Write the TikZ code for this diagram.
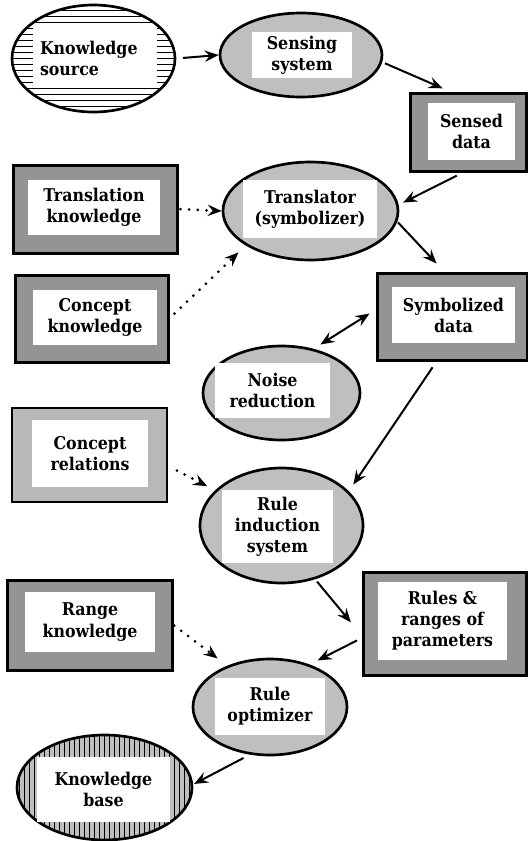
\documentclass[tikz,border=0pt]{standalone}
\usepackage{fontspec}
\setmainfont{DejaVu Serif Condensed}
\usetikzlibrary{shapes.geometric,arrows.meta}

\begin{document}
\begin{tikzpicture}[x=0.3mm, y=-0.3mm,
    >={Stealth[length=4.2mm, width=3.4mm, inset=1.5mm]},
    dims/.style 2 args={minimum width=#1*0.3mm, minimum height=#2*0.3mm},
    oval/.style={ellipse, draw=black, line width=0.8mm, fill=black!25, inner sep=0pt},
    box/.style={rectangle, draw=black, line width=0.9mm, fill=black!42, inner sep=0pt},
    lightbox/.style={box, line width=0.6mm, fill=black!28},
    hlines/.style={path picture={\foreach \k in {-10,...,10}
        \draw[line width=0.5mm] ([yshift=\k*1.8mm]path picture bounding box.west) -- ([yshift=\k*1.8mm]path picture bounding box.east);}},
    vlines/.style={path picture={\foreach \k in {-20,...,20}
        \draw[line width=0.35mm] ([xshift=\k*1.5mm]path picture bounding box.north) -- ([xshift=\k*1.5mm]path picture bounding box.south);}},
    txt/.style={rectangle, fill=white, inner sep=0pt, align=center, font=\bfseries\fontsize{15}{18}\selectfont},
    arr/.style={line width=0.6mm, ->},
    dblarr/.style={line width=0.6mm, <->},
    dotarr/.style={line width=0.9mm, dash pattern=on 0pt off 2.6mm, line cap=round, ->}]
    \useasboundingbox (0,0) rectangle (528,841);

    \node[oval, dims={163}{107}, fill=white, hlines] (ks) at (93.5,58.5) {};
    \node[txt, minimum height=60*0.3mm, text width=110*0.3mm, inner xsep=7*0.3mm, align=left] (ks-txt) at (95,58) {Knowledge\\source};

    \node[oval, dims={162}{84}] (sens) at (301,55) {};
    \node[txt, dims={100}{46}] (sens-txt) at (302,55) {Sensing\\system};

    \node[box, dims={116}{78}] (sdata) at (468,132) {};
    \node[txt, dims={87}{57}] (sdata-txt) at (471.5,131.5) {Sensed\\data};

    \node[oval, dims={175}{98}] (trans) at (310.5,211) {};
    \node[txt, dims={134}{58}] (trans-txt) at (310,209) {Translator\\(symbolizer)};

    \node[box, dims={164}{88}] (transk) at (95,209) {};
    \node[txt, dims={132}{55}] (transk-txt) at (94,207.5) {Translation\\knowledge};

    \node[box, dims={153}{87}] (conk) at (91.5,318.5) {};
    \node[txt, dims={124}{55}] (conk-txt) at (95,317.5) {Concept\\knowledge};

    \node[box, dims={150}{87}] (symb) at (452,316.5) {};
    \node[txt, dims={123}{56}] (symb-txt) at (453.5,315) {Symbolized\\data};

    \node[oval, dims={157}{94}] (noise) at (281.5,393) {};
    \node[txt, dims={115}{55}] (noise-txt) at (272.5,390.5) {Noise\\reduction};

    \node[lightbox, dims={155}{94}] (conrel) at (89.5,455) {};
    \node[txt, dims={116}{67}] (conrel-txt) at (90,453.5) {Concept\\relations};

    \node[oval, dims={163}{115}] (rind) at (281.5,525.5) {};
    \node[txt, dims={111}{73}] (rind-txt) at (277.5,526.5) {Rule\\induction\\system};

    \node[box, dims={163}{103}] (rules) at (444.5,623.5) {};
    \node[txt, dims={129}{78}] (rules-txt) at (442.5,621) {Rules \&\\ranges of\\parameters};

    \node[box, dims={165}{90}] (rangek) at (89.5,625) {};
    \node[txt, dims={130}{60}] (rangek-txt) at (90,622) {Range\\knowledge};

    \node[oval, dims={154}{96}] (ropt) at (270,707) {};
    \node[txt, dims={110}{57}] (ropt-txt) at (270,706.5) {Rule\\optimizer};

    \node[oval, dims={175}{105}, vlines] (kb) at (104.5,787.5) {};
    \node[txt, dims={133}{65}] (kb-txt) at (103.5,789.5) {Knowledge\\base};

    \path (ks.east) edge[arr, shorten <=2mm] (sens.west);
    \path (sens.-5) edge[arr, shorten <=0.9mm, shorten >=2.4mm] (sdata.114);
    \path (sdata.-97) edge[arr, shorten <=2.1mm, shorten >=1.5mm] (trans.4);
    \path (trans.-7) edge[arr, shorten <=0.3mm, shorten >=3.3mm] (symb.100);
    \path (transk.east) edge[dotarr, shorten <=0.6mm] (trans.west);
    \path (conk.east) edge[dotarr, shorten <=2.1mm, shorten >=3mm] (trans.208);
    \path (noise.54) edge[dblarr, shorten <=2.4mm, shorten >=2.1mm] (symb.175);
    \path (symb.-109) edge[arr, shorten <=2.1mm, shorten >=2.4mm] (rind.27);
    \path (conrel.-8) edge[dotarr, shorten <=3mm, shorten >=2.7mm] (rind.152);
    \path (rind.-58) edge[arr, shorten <=0.9mm, shorten >=5mm] (rules.188);
    \path (rules.190) edge[arr, shorten <=1.5mm, shorten >=2.7mm] (ropt.47);
    \path (rangek.east) edge[dotarr, shorten <=0.3mm, shorten >=3.6mm] (ropt.136);
    \path (ropt.-113) edge[arr, shorten <=2.1mm, shorten >=0.3mm] (kb.2);
\end{tikzpicture}
\end{document}
